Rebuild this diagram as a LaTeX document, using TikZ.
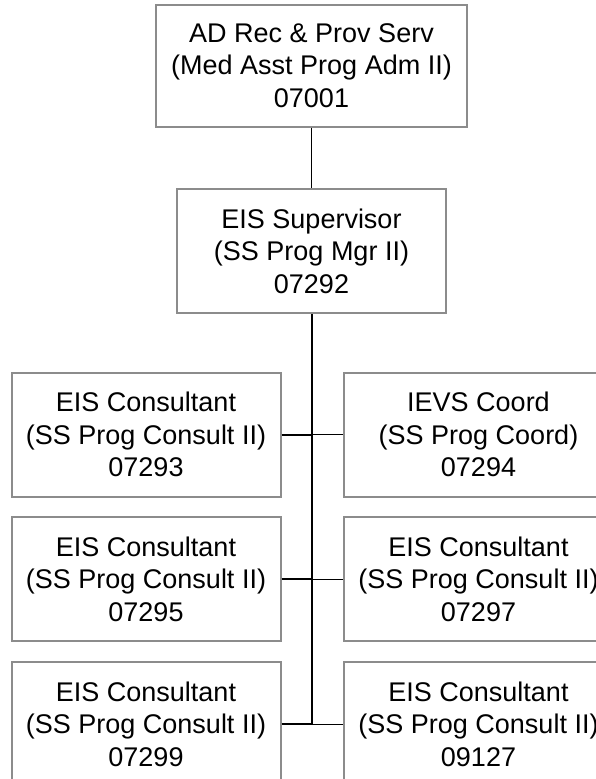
\documentclass[tikz,border=0pt]{standalone}
\usepackage{fontspec}
\setmainfont{Liberation Sans}
\definecolor{postgray}{HTML}{8C8C8C}
\tikzset{
  post/.style={draw=postgray, line width=2pt, fill=white, align=center,
    inner sep=0pt, minimum width=269pt, minimum height=124pt,
    font=\fontsize{27}{32.5}\selectfont},
  thinlink/.style={line width=1pt},
  thicklink/.style={line width=2pt}
}

\begin{document}
\begin{tikzpicture}[x=1pt, y=-1pt]
  \useasboundingbox (0,0) rectangle (596,779);
  \clip (0,0) rectangle (596,779);
  \node[post, minimum width=311pt, minimum height=122pt] (ad) at (311.5,65.5)
    {AD Rec \& Prov Serv\\(Med Asst Prog Adm II)\\07001};
  \node[post] (sup) at (311.5,251) {EIS Supervisor\\(SS Prog Mgr II)\\07292};
  \node[post] (c1) at (146,434.5) {EIS Consultant\\(SS Prog Consult II)\\07293};
  \node[post] (c2) at (478.5,434.5) {IEVS Coord\\(SS Prog Coord)\\07294};
  \node[post] (c3) at (146,579) {EIS Consultant\\(SS Prog Consult II)\\07295};
  \node[post] (c4) at (478.5,579) {EIS Consultant\\(SS Prog Consult II)\\07297};
  \node[post] (c5) at (146,724) {EIS Consultant\\(SS Prog Consult II)\\07299};
  \node[post] (c6) at (478.5,724) {EIS Consultant\\(SS Prog Consult II)\\09127};
  % reporting lines
  \draw[thinlink] (ad) -- (sup);
  \draw[thicklink] (sup.south) -- (sup.south |- c5.east);
  \foreach \n in {c1,c3,c5}
    \draw[thicklink] (\n.east) -- (\n.east -| sup.south);
  \foreach \n in {c2,c4,c6}
    \draw[thinlink] (\n.west) -- (\n.west -| sup.south);
\end{tikzpicture}
\end{document}
